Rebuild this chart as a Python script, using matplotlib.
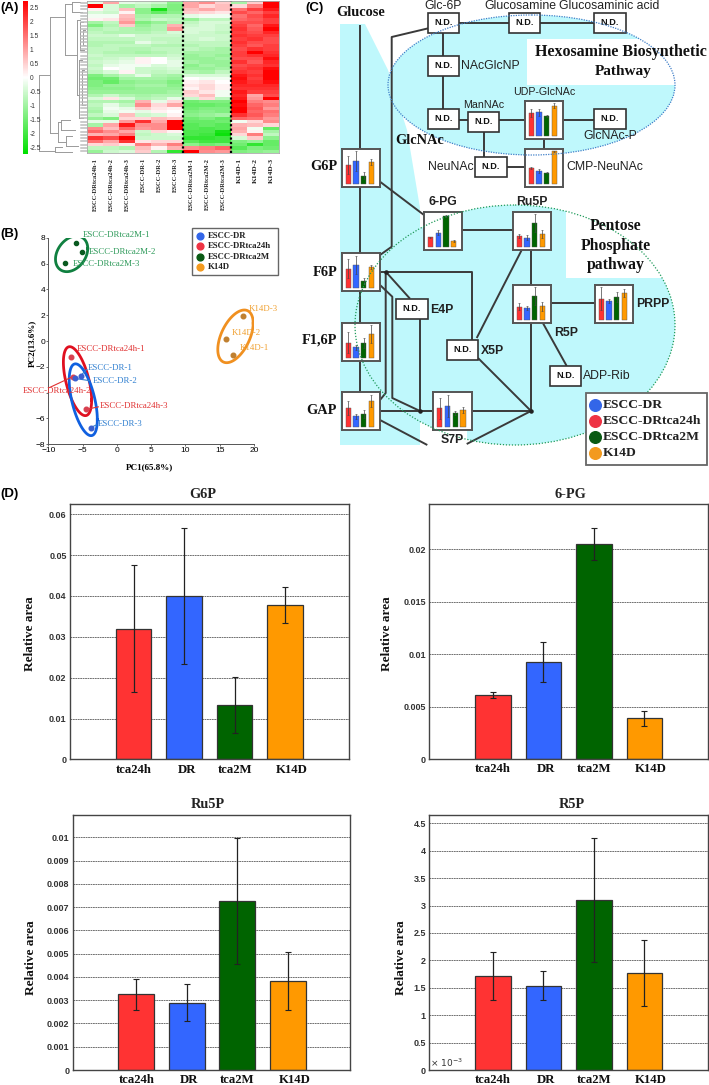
import numpy as np
import matplotlib
matplotlib.use("Agg")
import matplotlib.pyplot as plt
from matplotlib.colors import LinearSegmentedColormap
from matplotlib.patches import Ellipse, Polygon, Rectangle

SERIF = "Liberation Serif"
SANS = "Liberation Sans"
W, H = 709, 1085

# ---- data ----
heat_rows = [
    [-.2, .7, -.2, -.3, -.4, -.9, .7, .9, .4, -.7, .4, 2.0],
    [2.0, -.3, -.7, -.5, -.7, -1.0, .7, .3, .5, .3, 1.0, 2.2],
    [.1, -.3, .5, -.9, -1.8, -1.0, .5, .7, .5, 1.1, 1.5, 1.8],
    [-.3, -.4, .1, -.9, -1.2, -.9, .4, .3, .2, 1.4, 1.2, 1.5],
    [-.1, -.1, .5, -.7, -.6, -.6, -.2, -.1, -.1, 1.1, 1.4, 1.7],
    [.1, .2, .6, -.6, -.4, -.5, -.8, -.5, -.5, 1.2, 1.3, 1.5],
    [-.7, -.5, .8, -1.0, -.8, -.6, -.5, -.3, -.3, 1.4, 1.4, 1.5],
    [-1.0, -.6, .4, -.8, -.6, .6, -.4, -.3, -.4, 1.5, 1.2, 1.8],
    [-.6, -.5, -.6, -.7, -.6, .8, -.3, -.3, -.4, 1.6, 1.3, 2.2],
    [-.5, -.6, -.6, -.6, -.5, -.3, -.3, -.4, -.5, 1.5, 1.4, 1.7],
    [-.4, -.4, -.2, -.4, -.4, -.4, -.4, -.4, -.4, 1.6, 1.5, 1.5],
    [-.5, -.5, -.5, -.4, -.5, -.5, -.4, -.3, -.4, 1.5, 1.6, 1.4],
    [-.6, -.6, -.6, -.2, -.4, -.5, -.5, -.5, -.5, 1.6, 1.4, 1.4],
    [-.6, -.5, -.5, -.5, -.6, -.6, -.6, -.5, -.5, 1.5, 1.3, 1.5],
    [-.5, -.5, -.6, -.6, -.5, -.5, -.5, -.6, -.7, 1.4, 1.6, 1.5],
    [-.5, -.6, -.6, -.7, -.6, -.5, -.7, -.7, -.7, 1.5, 2.0, 1.6],
    [-.4, -.5, -.5, -.5, -.5, -.4, -.8, -.7, -.8, 1.5, 1.6, 1.7],
    [-.5, -.4, -.3, .1, .0, -.3, -.8, -.8, -.7, 1.4, 1.4, 1.9],
    [-.4, -.3, -.2, .1, .0, -.2, -.7, -.8, -.8, 1.6, 1.3, 1.7],
    [-.5, -.2, -.1, -.1, -.3, -.2, -.9, -.7, -.8, 1.4, 1.5, 1.6],
    [-.4, .0, -.1, -.4, -.4, -.3, -.8, -.8, -.7, 1.5, 1.6, 1.9],
    [-.5, -.3, .1, -.4, -.5, -.4, -.6, -.7, -.5, 1.6, 1.5, 2.1],
    [-1.0, -.7, -.5, -.2, -.6, -.7, -.3, -.3, -.3, 1.8, 1.6, 2.2],
    [-1.1, -1.1, -.7, -.7, -.7, -.8, .0, -.1, -.1, 1.9, 1.5, 2.0],
    [-1.0, -1.2, -.9, -.8, -.8, -1.0, .1, .2, .0, 1.8, 1.6, 1.9],
    [-1.0, -.8, -.8, -.7, -.7, -.9, .2, .3, .1, 1.7, 1.7, 1.7],
    [-.9, -.9, -.9, -.8, -.8, -.8, .1, .3, .1, 1.6, 1.6, 1.6],
    [-.8, -.8, -.8, -.8, -.8, -.7, .4, .2, -.1, 1.8, 1.5, 1.5],
    [-.6, -.4, -.6, -.7, -.6, -.6, .3, .5, -.1, 1.7, .7, 1.4],
    [-.3, .2, -.3, -.6, -.5, -.2, -.4, .3, -.5, 1.8, .8, 2.4],
    [-.6, -.6, -.7, .6, -.2, .3, -1.1, -1.0, -1.0, 2.0, 1.0, .9],
    [-.5, -.2, -.5, .9, .3, .7, -1.2, -1.2, -1.1, 1.9, 1.2, 1.0],
    [-.6, -.1, -.2, .4, .2, .1, -1.1, -1.0, -1.0, 2.2, 1.3, .8],
    [-.7, -.2, -.1, -.2, .1, .0, -1.0, -.9, -1.0, 2.7, 1.2, 1.1],
    [-.5, -.3, .5, -.4, -.3, .1, -.9, -.8, -.7, 1.6, 1.3, 1.0],
    [-.8, -1.0, .3, .3, .5, .4, -1.1, -1.0, -1.2, 1.2, 1.1, .8],
    [-.2, -.2, .8, 1.6, .7, 2.3, -1.2, -1.2, -1.1, -.1, .3, .9],
    [-.7, .7, 1.8, .9, .9, 2.4, -1.3, -1.2, -1.3, .6, .5, .3],
    [.9, .5, 1.2, .8, .9, 2.3, -1.3, -1.4, -1.3, .7, -.1, -1.2],
    [1.2, .9, .7, -.4, .3, .1, -1.4, -1.4, -1.8, .6, .1, -.7],
    [.6, .7, 1.0, -.5, -.4, -.3, -1.4, -1.5, -1.9, .3, 1.0, -.5],
    [1.6, 1.4, 2.1, -.4, -.4, -.4, -1.6, -1.6, -1.5, -.3, .4, -.9],
    [1.1, .7, 1.6, .2, .3, .3, -1.3, -1.5, -1.5, -1.0, -.8, -1.2],
    [.3, .4, .2, 1.0, .6, 1.0, -.9, -1.1, -1.0, -1.1, -1.6, -1.2],
    [-.5, -.5, -.6, .5, .1, .6, .9, 1.0, 1.2, -1.3, -1.0, -1.1],
    [-.8, -.4, -.3, .4, -.6, -1.6, 2.2, .9, .8, -1.0, -.9, -.8],
]
heat_labels = ["ESCC-DRtca24h-1", "ESCC-DRtca24h-2", "ESCC-DRtca24h-3",
               "ESCC-DR-1", "ESCC-DR-2", "ESCC-DR-3",
               "ESCC-DRtca2M-1", "ESCC-DRtca2M-2", "ESCC-DRtca2M-3",
               "K14D-1", "K14D-2", "K14D-3"]
cbar_ticks = [2.5, 2, 1.5, 1, .5, 0, -.5, -1, -1.5, -2, -2.5]
cbar_labels = ["2.5", "2", "1.5", "1", "0.5", "0", "-0.5", "-1", "-1.5", "-2", "-2.5"]

# dendrogram merges: height, top row, bottom row, child height top, child height bottom
dendro_merges = [
    (39, 75, 150.7, 50, 55), (50, 17, 133, 65, 58), (65, 4, 55, 72, 77),
    (72, 2, 12, 80, 82), (77, 20, 95, 80, 79), (79, 60, 118, 82, 83),
    (80, 22, 50, 83, 84), (83, 30, 45, 85, 85), (82, 70, 105, 84, 85),
    (58, 122, 142, 61, 66), (61, 120, 130, 70, 75), (66, 136, 146, 72, 78),
    (55, 147, 152, 62, 72),
]

pca_2m_x = [-5.9, -5.1, -7.5]
pca_2m_y = [7.6, 6.9, 6.05]
pca_24h_x = [-6.7, -6.4, -4.5]
pca_24h_y = [-1.25, -2.75, -5.3]
pca_dr_x = [-5.3, -6.1, -3.8]
pca_dr_y = [-2.7, -2.9, -6.7]
pca_k14_x = [18.4, 15.9, 16.9]
pca_k14_y = [1.95, 0.15, -1.1]

groups = ["tca24h", "DR", "tca2M", "K14D"]
g6p_vals = [.032, .040, .0133, .0378]
g6p_errs = [.0155, .0167, .0068, .0043]
pg_vals = [.0061, .0093, .0205, .0039]
pg_errs = [.0003, .0019, .0015, .0007]
ru5p_vals = [.00325, .0029, .00727, .00383]
ru5p_errs = [.00065, .00078, .0027, .00124]
r5p_vals = [1.72, 1.54, 3.10, 1.77]
r5p_errs = [.44, .26, 1.13, .61]

# small bars inside the pathway boxes (relative height)
mini_vals = {
    "G6P": [56, 69, 24, 65], "6-PG": [28, 42, 93, 17], "Ru5P": [32, 28, 72, 38],
    "F6P": [58, 70, 21, 63], "F16P": [45, 31, 45, 71], "GAP": [58, 33, 39, 79],
    "S7P": [57, 65, 43, 52], "R5P": [40, 36, 72, 41], "PRPP": [64, 57, 70, 80],
    "UDP": [69, 71, 60, 91], "CMP": [46, 38, 33, 97],
}
mini_errs = {
    "G6P": [27, 30, 11, 8], "6-PG": [1, 8, 3, 3], "Ru5P": [6, 8, 26, 12],
    "F6P": [28, 27, 10, 7], "F16P": [31, 8, 15, 28], "GAP": [20, 7, 12, 18],
    "S7P": [32, 33, 6, 8], "R5P": [10, 5, 26, 14], "PRPP": [34, 7, 15, 12],
    "UDP": [12, 11, 2, 8], "CMP": [3, 5, 1, 1],
}

RED, BLUE, GREEN, ORANGE = "#ff3333", "#3366ff", "#006400", "#ff9900"
BAR_COLORS = [RED, BLUE, GREEN, ORANGE]
CYAN = "#bff8fc"

fig = plt.figure(figsize=(W / 100, H / 100), dpi=100, facecolor="white")


def px_axes(l, t, r, b, zorder=2):
    return fig.add_axes([l / W, 1 - b / H, (r - l) / W, (b - t) / H], zorder=zorder)


# full figure layers in pixel coordinates
ov = px_axes(0, 0, W, H, zorder=1)
ov.set_xlim(0, W)
ov.set_ylim(H, 0)
ov.axis("off")
top = px_axes(0, 0, W, H, zorder=6)
top.set_xlim(0, W)
top.set_ylim(H, 0)
top.axis("off")
top.patch.set_alpha(0)

for letter, x, y in [("(A)", 0, 8), ("(B)", 0, 234), ("(C)", 305, 8), ("(D)", 0, 494)]:
    top.text(x, y, letter, family=SANS, weight="bold", fontsize=9.5, va="center")

# ---- (A) heatmap ----
gr = LinearSegmentedColormap.from_list("gwr", ["#00e000", "#ffffff", "#ff0000"])
ax = px_axes(87, 1, 279, 153)
ax.imshow(np.array(heat_rows), cmap=gr, vmin=-2.0, vmax=2.0, aspect="auto",
          interpolation="nearest")
ax.set_xticks([])
ax.set_yticks([])
for s in ax.spines.values():
    s.set_color("#aaaaaa")
    s.set_linewidth(.6)
ax.axvline(5.5, color="black", lw=1.6, ls=(0, (1, 1)))
ax.axvline(8.5, color="black", lw=1.6, ls=(0, (1, 1)))
for i, lab in enumerate(heat_labels):
    top.text(87 + 16 * (i + .5), 158, lab, rotation=90, family=SERIF, weight="bold",
             fontsize=4.7 if lab.startswith("ESCC") else 5.4, ha="center", va="top", color="#222222")

cb = px_axes(23, 1, 28, 154)
grad = np.linspace(2.74, -2.74, 200).reshape(-1, 1)
cb.imshow(grad, cmap=gr, vmin=-2.74, vmax=2.74, aspect="auto", extent=[0, 1, -2.74, 2.74])
cb.set_xticks([])
cb.yaxis.tick_right()
cb.set_yticks(cbar_ticks)
cb.set_yticklabels(cbar_labels, family=SANS, fontsize=4.8, color="#333333")
cb.tick_params(axis="y", length=0, pad=1)
for s in cb.spines.values():
    s.set_visible(False)

for x, y0, y1, c0, c1 in dendro_merges:
    ov.plot([x, x], [y0, y1], color="#9a9a9a", lw=.7)
    ov.plot([x, c0], [y0, y0], color="#9a9a9a", lw=.7)
    ov.plot([x, c1], [y1, y1], color="#9a9a9a", lw=.7)
for r in range(len(heat_rows)):
    y = 1 + (r + .5) * 152 / len(heat_rows)
    ov.plot([81, 87], [y, y], color="#bdbdbd", lw=1.1)

# ---- (B) PCA ----
ax = px_axes(48.3, 237.7, 254, 444.3)
ax.set_xlim(-10, 20)
ax.set_ylim(-8, 8)
ax.patch.set_alpha(0)
ax.spines["top"].set_visible(False)
ax.spines["right"].set_visible(False)
for s in ["left", "bottom"]:
    ax.spines[s].set_color("#555555")
    ax.spines[s].set_linewidth(.7)
ax.set_xticks(range(-10, 21, 5))
ax.set_yticks(range(-8, 9, 2))
ax.set_yticklabels(["\u22128", "\u22126", "", "\u22122", "0", "2", "4", "6", "8"])
ax.tick_params(length=1.5, width=.6, labelsize=6, color="#555555", pad=.8)
for t in ax.get_xticklabels() + ax.get_yticklabels():
    t.set_family(SANS)


def tilted(cx, cy, ax_x, ax_y, corr, color):
    t = np.linspace(0, 2 * np.pi, 120)
    phi = np.arccos(corr)
    ax.plot(cx + ax_x * np.cos(t), cy + ax_y * np.cos(t - phi), color=color, lw=2)


tilted(-6.6, 6.75, 2.35, 1.38, .3, "#108040")
tilted(-5.74, -3.11, 2.06, 2.67, -.55, "#e01020")
tilted(-4.9, -4.55, 2.05, 2.78, -.55, "#1060e0")
tilted(17.3, .36, 2.58, 2.04, .5, "#f09020")
ax.plot([-6.4, -9.8], [-2.75, -3.6], color="#e03030", lw=.8)
ax.plot([-6.1, -4.0], [-2.9, -3.07], color="#2f7fd0", lw=.8)
ax.plot([-5.3, -4.4], [-2.7, -2.2], color="#2f7fd0", lw=.8)
ax.plot([-4.5, -2.7], [-5.3, -5.1], color="#e03030", lw=.8)
ax.plot([-3.8, -3.0], [-6.7, -6.5], color="#2f7fd0", lw=.8)
ax.scatter(pca_2m_x, pca_2m_y, s=9, color="#0a5a20", zorder=3)
ax.scatter(pca_24h_x, pca_24h_y, s=11, color="#d84050", zorder=3)
ax.scatter(pca_dr_x, pca_dr_y, s=11, color="#3a5fd0", zorder=3)
ax.scatter(pca_k14_x, pca_k14_y, s=11, color="#c08030", zorder=3)
pca_text = [
    ("ESCC-DRtca2M-1", -5.0, 8.2, "#2e9a5a"), ("ESCC-DRtca2M-2", -4.17, 6.86, "#2e9a5a"),
    ("ESCC-DRtca2M-3", -6.5, 6.0, "#2e9a5a"), ("ESCC-DRtca24h-1", -5.87, -.65, "#e03030"),
    ("ESCC-DRtca24h-2", -13.74, -3.9, "#e03030"), ("ESCC-DRtca24h-3", -2.56, -5.03, "#e03030"),
    ("ESCC-DR-1", -4.31, -2.06, "#2f7fd0"), ("ESCC-DR-2", -3.53, -3.1, "#2f7fd0"),
    ("ESCC-DR-3", -2.85, -6.43, "#2f7fd0"), ("K14D-3", 19.2, 2.48, "#f0a030"),
    ("K14D-2", 16.74, .62, "#f0a030"), ("K14D-1", 17.86, -.54, "#f0a030"),
]
for lab, x, y, c in pca_text:
    ax.text(x, y, lab, color=c, family=SERIF, fontsize=6.4, va="center", zorder=4)
top.text(150, 467, "PC1(65.8%)", family=SERIF, weight="bold", fontsize=6.5, ha="center", va="center")
top.text(32, 343, "PC2(13.6%)", family=SERIF, weight="bold", fontsize=6.5, rotation=90,
         ha="center", va="center")


def draw_legend(box, ys, dot_x, text_x, size, dot, lw):
    l, t, r, b = box
    top.add_patch(Rectangle((l, t), r - l, b - t, fc="white", ec="#666666", lw=lw))
    names = ["ESCC-DR", "ESCC-DRtca24h", "ESCC-DRtca2M", "K14D"]
    cols = ["#3366e8", "#ee3344", "#0a5a14", "#f39a1e"]
    for name, col, y in zip(names, cols, ys):
        top.scatter([dot_x], [y], s=dot, color=col, zorder=7)
        top.text(text_x, y, name, family=SERIF, weight="bold", fontsize=size, va="center",
                 color="#222222", zorder=7)


draw_legend((191.7, 228.3, 278.3, 275), [235.7, 246, 256.7, 267.3], 200.3, 208, 6.3, 24, 1)

# ---- (C) pathway ----
ov.add_patch(Polygon([(340, 24), (365, 24), (388, 70), (407, 130), (420, 208), (420, 445), (340, 445)],
                     fc=CYAN, ec="none"))
ov.add_patch(Ellipse((531.5, 85), 287, 140, fc=CYAN, ec="none"))
ov.add_patch(Ellipse((515, 325), 320, 240, fc=CYAN, ec="none"))
ov.add_patch(Rectangle((527, 39), 148, 46, fc="white", ec="none"))
ov.add_patch(Rectangle((566, 205), 100, 73, fc="white", ec="none"))
ov.add_patch(Rectangle((428, 430), 39, 16, fc="white", ec="none"))
top.add_patch(Ellipse((531.5, 85), 287, 140, fc="none", ec="#3f7fc8", lw=.9, ls=(0, (1, 1))))
top.add_patch(Ellipse((515, 325), 320, 240, fc="none", ec="#1f9a5a", lw=.9, ls=(0, (1, 1.4))))

links = [
    [(360.3, 25), (360.3, 392)], [(438, 26), (391.7, 37), (391.7, 246.7), (380, 255)],
    [(380, 181.7), (424, 215)], [(462, 230), (513, 230)], [(459, 22.5), (594, 22.5)],
    [(442.5, 32), (442.5, 109)], [(459, 119.5), (468, 119.5)], [(499, 119.5), (525, 119.5)],
    [(563, 119.5), (594, 119.5)], [(544, 139), (544, 149)], [(483.7, 132), (483.7, 157)],
    [(507, 167), (525, 167)], [(531, 250), (531, 411)], [(551, 303), (595, 303)],
    [(542.7, 322.7), (566.7, 366)], [(476.7, 338), (521.7, 250)],
    [(380, 271.7), (471.7, 271.7), (471.7, 340)], [(385.7, 271.7), (385.7, 393), (380, 400)],
    [(386, 272), (410, 298.7)], [(380, 285), (392.3, 296.7), (392.3, 398), (420, 411)],
    [(420.3, 318), (420.3, 411)], [(380, 411), (433, 411)], [(471, 411), (531, 411)],
    [(478, 358), (531, 411)], [(531, 411), (466.7, 444)], [(380, 420), (427.3, 445)],
]
for pts in links:
    xs, ys = zip(*pts)
    ov.plot(xs, ys, color="#3a3a3a", lw=1.4, solid_capstyle="butt")
ov.scatter([386, 420.3, 531], [272, 411, 411], s=5, color="#222222", zorder=3)

nd_boxes = [(427.7, 12.7), (508.7, 12.7), (594.3, 12.7), (427.7, 56), (427.7, 108.7),
            (468, 111.7), (594.3, 108.7), (475.3, 156.7), (396.3, 298.7), (446.7, 340),
            (549.7, 366)]
for x, y in nd_boxes:
    ov.add_patch(Rectangle((x, y), 31.4, 19.8, fc="white", ec="#333333", lw=1.2, zorder=4))
    ov.text(x + 15.7, y + 9.9, "N.D.", family=SANS, weight="bold", fontsize=6.6,
            ha="center", va="center", color="#111111", zorder=5)

mini_pos = {
    "G6P": (341.7, 148.7), "6-PG": (424, 211.7), "Ru5P": (512.7, 212), "F6P": (341.7, 253),
    "F16P": (341.7, 322.7), "GAP": (341.7, 392.3), "S7P": (433.3, 392.3), "R5P": (512.7, 285),
    "PRPP": (594.7, 285), "UDP": (524.7, 101), "CMP": (524.7, 148.7),
}
for name, (x, y) in mini_pos.items():
    m = px_axes(x, y, x + 38.3, y + 38, zorder=3)
    m.bar(19.5 + 23.3 * np.arange(4), mini_vals[name], width=16, color=BAR_COLORS,
          edgecolor="#555555", linewidth=.3)
    m.errorbar(19.5 + 23.3 * np.arange(4), mini_vals[name], yerr=mini_errs[name], fmt="none",
               ecolor="#444444", elinewidth=.5, capsize=.8, capthick=.4)
    m.set_xlim(0, 115)
    m.set_ylim(-9, 105)
    m.set_xticks([])
    m.set_yticks([])
    for s in m.spines.values():
        s.set_color("#555555")
        s.set_linewidth(1.4)

serif_labels = [
    ("Glucose", 361, 13, 10.4, "center"), ("G6P", 337, 167, 10.4, "right"),
    ("F6P", 337, 272, 10.4, "right"), ("F1,6P", 337, 340, 10.4, "right"),
    ("GAP", 337, 410, 10.4, "right"), ("GlcNAc", 420, 140, 10.4, "center"),
    ("Hexosamine Biosynthetic", 535, 52, 11.5, "left"),
    ("Pathway", 623, 72, 11, "center"), ("Pentose", 616, 226, 11.3, "center"),
    ("Phosphate", 616, 246, 11.3, "center"), ("pathway", 616, 265, 11.3, "center"),
]
for s, x, y, size, ha in serif_labels:
    top.text(x, y, s, family=SERIF, weight="bold", fontsize=size, ha=ha, va="center", color="#111111")

sans_labels = [
    ("Glc-6P", 443, 6, 8.8, "center", "normal"), ("Glucosamine", 520, 6, 8.8, "center", "normal"),
    ("Glucosaminic acid", 609, 6, 8.8, "center", "normal"), ("NAcGlcNP", 461, 66, 8.8, "left", "normal"),
    ("ManNAc", 484, 105, 7.7, "center", "normal"), ("UDP-GlcNAc", 544, 92, 7.7, "center", "normal"),
    ("GlcNAc-P", 610, 136, 8.8, "center", "normal"), ("NeuNAc", 474, 167, 8.8, "right", "normal"),
    ("CMP-NeuNAc", 566, 167, 8.8, "left", "normal"), ("6-PG", 443, 202, 8.8, "center", "bold"),
    ("Ru5P", 532, 202, 8.8, "center", "bold"), ("PRPP", 636, 304, 8.8, "left", "bold"),
    ("R5P", 554, 333, 8.8, "left", "bold"), ("E4P", 430, 310, 8.8, "left", "bold"),
    ("X5P", 481, 351, 8.8, "left", "bold"), ("ADP-Rib", 583, 376, 8.8, "left", "normal"),
    ("S7P", 452, 440, 8.8, "center", "bold"),
]
for s, x, y, size, ha, w in sans_labels:
    top.text(x, y, s, family=SANS, weight=w, fontsize=size, ha=ha, va="center", color="#222222")

draw_legend((586, 393, 707, 465), [405, 421, 437, 453], 595, 603, 9.7, 70, 1.3)

# ---- (D) bar panels ----
panels = [
    ("G6P", g6p_vals, g6p_errs, (70, 504, 349, 759.4), .0625,
     [0, .01, .02, .03, .04, .05, .06], ["0", "0.01", "0.02", "0.03", "0.04", "0.05", "0.06"],
     203, 30, 634),
    ("6-PG", pg_vals, pg_errs, (429.3, 504.3, 708, 759.3), .02429,
     [0, .005, .01, .015, .02], ["0", "0.005", "0.01", "0.015", "0.02"],
     570, 387, 634),
    ("Ru5P", ru5p_vals, ru5p_errs, (72.7, 815, 350, 1070), .01096,
     [0, .001, .002, .003, .004, .005, .006, .007, .008, .009, .01],
     ["0", "0.001", "0.002", "0.003", "0.004", "0.005", "0.006", "0.007", "0.008", "0.009", "0.01"],
     208, 31, 958),
    ("R5P", r5p_vals, r5p_errs, (429.3, 814.7, 708, 1070), 4.657,
     [0, .5, 1, 1.5, 2, 2.5, 3, 3.5, 4, 4.5], ["0", "0.5", "1", "1.5", "2", "2.5", "3", "3.5", "4", "4.5"],
     571.5, 401.5, 958),
]
label_shift = [0, .05, 0, .13]
for name, vals, errs, box, ymax, ticks, ticklabs, title_x, ylab_x, ylab_y in panels:
    ax = px_axes(*box)
    xs = np.arange(1, 5)
    ax.bar(xs, vals, width=.707, color=BAR_COLORS, edgecolor="#333333", linewidth=.9, zorder=2)
    ax.errorbar(xs, vals, yerr=errs, fmt="none", ecolor="#222222", elinewidth=.9,
                capsize=2.2, capthick=.8, zorder=3)
    ax.set_xlim(-.26, -.26 + (box[2] - box[0]) / 50.5)
    ax.set_ylim(0, ymax)
    ax.set_yticks(ticks)
    ax.set_yticklabels(ticklabs, family=SANS, weight="bold", fontsize=6.5, color="#333333")
    ax.set_xticks(xs + np.array(label_shift))
    ax.set_xticklabels(groups, family=SERIF, weight="bold", fontsize=9.2, color="#111111")
    ax.tick_params(axis="x", length=0, pad=3)
    ax.tick_params(axis="y", length=0, pad=2.5)
    ax.grid(axis="y", color="#666666", lw=.65, ls=(0, (2, .7)), zorder=1)
    ax.set_axisbelow(True)
    for s in ax.spines.values():
        s.set_color("#444444")
        s.set_linewidth(1)
    top.text(title_x, box[1] - 10, name, family=SERIF, weight="bold",
             fontsize=10.3, ha="center", va="center", color="#222222")
    top.text(ylab_x, ylab_y, "Relative area", family=SERIF, weight="bold",
             fontsize=9.5, rotation=90, ha="center", va="center", color="#111111")
    if name == "R5P":
        ax.text(.002, .012, r"$\times\ 10^{-3}$", transform=ax.transAxes, fontsize=6.5, color="#333333")

fig.savefig("out.png", dpi=100)
